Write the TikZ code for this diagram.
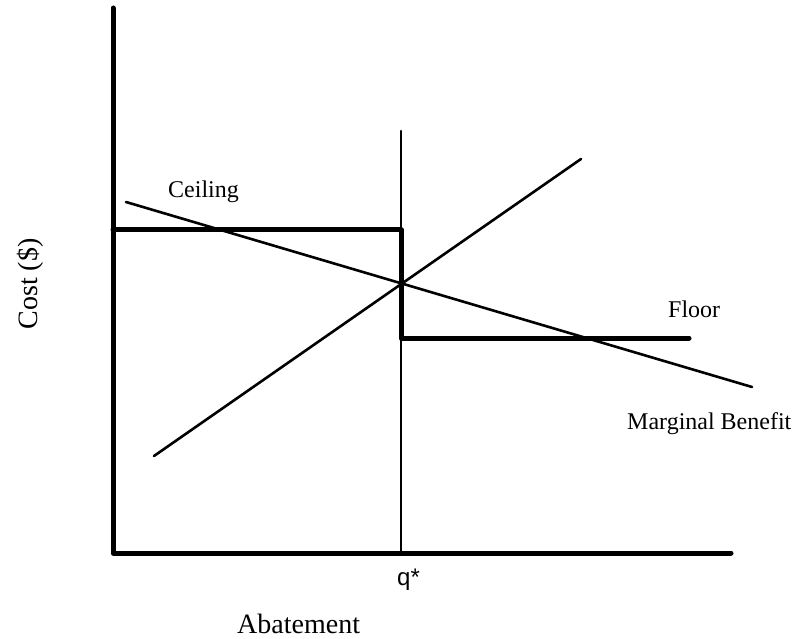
\documentclass[tikz,border=0pt]{standalone}
\usepackage{fontspec}
\setmainfont{Liberation Serif}
\newfontfamily\arialfont{Liberation Sans}
\begin{document}
\begin{tikzpicture}[x=1pt,y=-1pt,
  heavy/.style={line width=5pt,line cap=round,line join=round},
  light/.style={line width=2.6pt,line cap=round},
  lbl/.style={inner sep=0pt,font=\fontsize{24}{28}\selectfont},
  axlbl/.style={inner sep=0pt,font=\fontsize{28}{32}\selectfont}]
\path[fill=white,use as bounding box] (0,0) rectangle (798,639);
% coordinates
\coordinate (ytop) at (113,8);
\coordinate (orig) at (113,553);
\coordinate (xend) at (731,553);
\coordinate (cstart) at (113,230);
\coordinate (cend) at (401,230);
\coordinate (fstart) at (401,338);
\coordinate (fend) at (689,338);
\coordinate (qtop) at (401,131);
\coordinate (qbot) at (401,553);
\coordinate (mb1) at (126,202);
\coordinate (mb2) at (752,387);
\coordinate (mc1) at (154,456);
\coordinate (mc2) at (581,159);
% axes
\draw[heavy] (ytop) -- (orig) -- (xend);
% q* line
\draw[light] (qtop) -- (qbot);
% marginal benefit and cost
\draw[light] (mb1) -- (mb2);
\draw[light] (mc1) -- (mc2);
% ceiling / floor
\draw[heavy] (cstart) -- (cend) -- (fstart) -- (fend);
% labels
\node[lbl,anchor=base west] (ceil) at (168,198) {Ceiling};
\node[lbl,anchor=base west] (floor) at (668,317) {Floor};
\node[lbl,anchor=base west] (mb) at (627,429) {Marginal Benefit};
\node[inner sep=0pt,font=\arialfont\fontsize{24}{28}\selectfont,anchor=base west] (q) at (397,585) {q*};
\node[axlbl,anchor=base west] (abat) at (237,633) {Abatement};
\node[axlbl,anchor=base,rotate=90] (cost) at (37,284) {Cost (\$)};
\end{tikzpicture}
\end{document}
